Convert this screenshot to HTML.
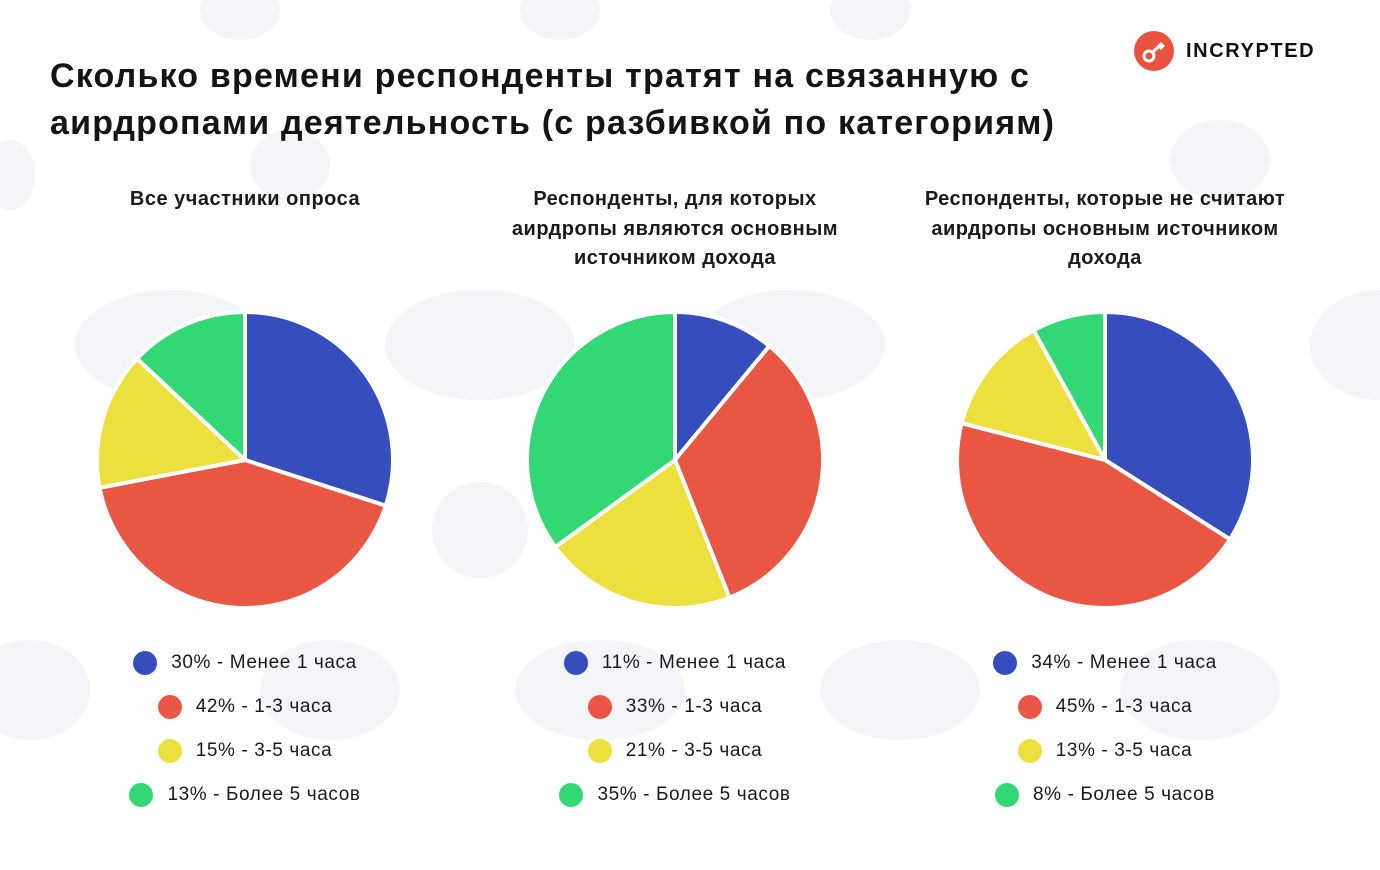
<!DOCTYPE html>
<html><head><meta charset="utf-8">
<style>
body{margin:0;width:1380px;height:870px;background:#fff;overflow:hidden;font-family:"Liberation Sans",sans-serif;position:relative}
.title{position:absolute;left:50px;top:53px;font-size:34px;font-weight:bold;color:#141414;line-height:47px;letter-spacing:1.2px;white-space:nowrap}
.sub{position:absolute;width:440px;text-align:center;font-size:20px;font-weight:bold;color:#1a1a1a;line-height:29.5px;top:185px;letter-spacing:0.5px}
.legend{position:absolute;width:400px;top:641px}
.row{display:flex;justify-content:center;align-items:center;height:44px;font-size:19px;color:#1a1a1a;letter-spacing:0.6px}
.dot{width:24px;height:24px;border-radius:50%;margin-right:14px}
.logo{position:absolute;left:1133px;top:30px;display:flex;align-items:center}
</style></head><body>
<svg style="position:absolute;left:0;top:0" width="1380" height="870">
<g fill="#f3f5f9">
<ellipse cx="170" cy="345" rx="95" ry="55"/><ellipse cx="480" cy="345" rx="95" ry="55"/><ellipse cx="790" cy="345" rx="95" ry="55"/>
<ellipse cx="1380" cy="345" rx="70" ry="55"/><ellipse cx="480" cy="530" rx="48" ry="48"/>
<ellipse cx="30" cy="690" rx="60" ry="50"/><ellipse cx="330" cy="690" rx="70" ry="50"/><ellipse cx="600" cy="690" rx="85" ry="50"/>
<ellipse cx="900" cy="690" rx="80" ry="50"/><ellipse cx="1200" cy="690" rx="80" ry="50"/>
<ellipse cx="240" cy="10" rx="40" ry="30"/><ellipse cx="560" cy="10" rx="40" ry="30"/><ellipse cx="870" cy="10" rx="40" ry="30"/>
<ellipse cx="1220" cy="160" rx="50" ry="40"/><ellipse cx="10" cy="175" rx="25" ry="35"/><ellipse cx="290" cy="165" rx="40" ry="35"/>
</g></svg>
<div class="title">Сколько времени респонденты тратят на связанную с<br>аирдропами деятельность (с разбивкой по категориям)</div>
<div class="logo">
<svg width="42" height="42"><circle cx="21" cy="21" r="20" fill="#e8533f"/><circle cx="16" cy="26" r="5" fill="none" stroke="#fff" stroke-width="3"/><path d="M20 22 L29 13 M26 16 L29 19 M28 14 L31 17" stroke="#fff" stroke-width="3" fill="none"/></svg>
<span style="margin-left:11px;font-weight:900;font-size:20px;letter-spacing:1.6px;color:#111">INCRYPTED</span></div>
<div class="sub" style="left:25px">Все участники опроса</div>
<div class="sub" style="left:455px">Респонденты, для которых<br>аирдропы являются основным<br>источником дохода</div>
<div class="sub" style="left:885px">Респонденты, которые не считают<br>аирдропы основным источником<br>дохода</div>
<svg id="pies" style="position:absolute;left:0;top:0" width="1380" height="870"></svg>
<div id="legends"></div>
<script>
const categories=["Менее 1 часа","1-3 часа","3-5 часа","Более 5 часов"];
const colors=["#364dbd","#e95744","#ebe03d","#31d874"];
const groupAll=[30,42,15,13];
const groupMain=[11,33,21,35];
const groupNotMain=[34,45,13,8];
const groups=[groupAll,groupMain,groupNotMain];
const groupNames=["all","main-income","not-main-income"];
const centersX=[245,675,1105];
const cy=460,R=148;
const svg=document.getElementById('pies');
const ns="http://www.w3.org/2000/svg";
function pt(cx,a){return [cx+R*Math.sin(a),cy-R*Math.cos(a)];}
groups.forEach((vals,g)=>{
  const total=vals.reduce((a,b)=>a+b,0);let acc=0;const cx=centersX[g];
  vals.forEach((v,i)=>{
    const a0=acc/total*2*Math.PI;acc+=v;const a1=acc/total*2*Math.PI;
    const p0=pt(cx,a0),p1=pt(cx,a1);
    const p=document.createElementNS(ns,'path');
    p.setAttribute('d',`M${cx},${cy} L${p0[0]},${p0[1]} A${R},${R} 0 ${a1-a0>Math.PI?1:0} 1 ${p1[0]},${p1[1]} Z`);
    p.setAttribute('fill',colors[i]);p.setAttribute('stroke','#fff');p.setAttribute('stroke-width','4');p.setAttribute('stroke-linejoin','round');
    
    
    svg.appendChild(p);
  });
  const lg=document.createElement('div');lg.className='legend';lg.style.left=(cx-200)+'px';
  
  
  vals.forEach((v,i)=>{
    const r=document.createElement('div');r.className='row';
    
    
    r.innerHTML=`<span class="dot" style="background:${colors[i]}"></span><span>${v}% - ${categories[i]}</span>`;
    lg.appendChild(r);
  });
  document.getElementById('legends').appendChild(lg);
});
</script>
</body></html>
